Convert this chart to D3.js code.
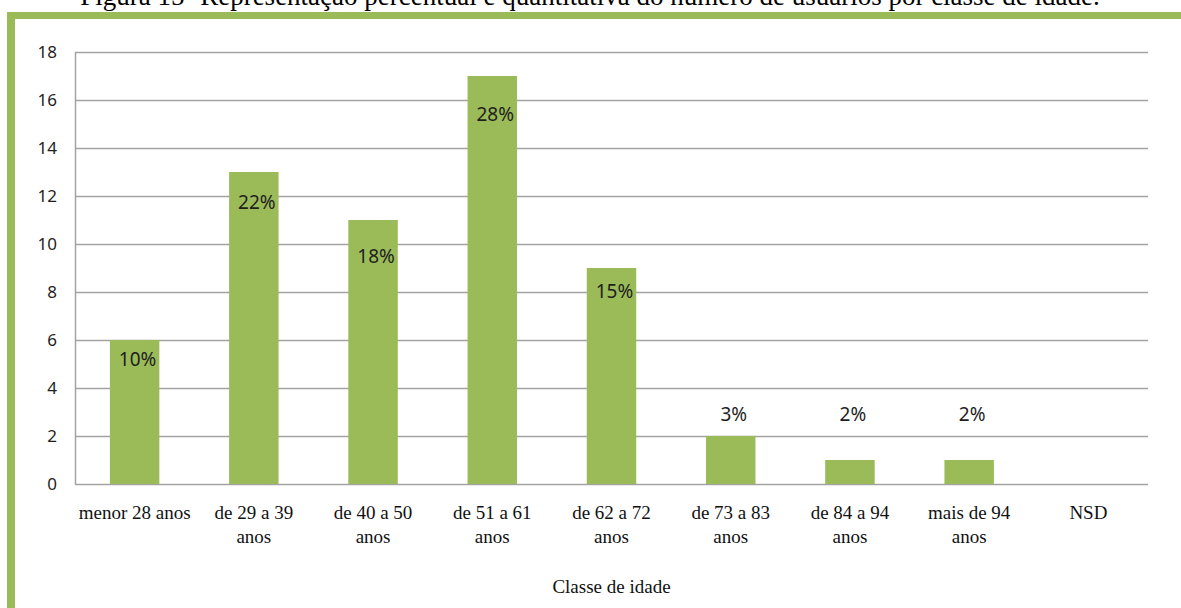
<!DOCTYPE html>
<html>
<head>
  <meta charset="utf-8">
  <title>Classe de idade</title>
  <script src="https://d3js.org/d3.v7.min.js"></script>
  <style>
    body { margin: 0; background: #fff; overflow: hidden; }
  </style>
</head>
<body>
  <svg id="chart" width="1181" height="608"></svg>
<script>
  // DATA
  var categories = ["menor 28 anos", "de 29 a 39\nanos", "de 40 a 50\nanos", "de 51 a 61\nanos",
                    "de 62 a 72\nanos", "de 73 a 83\nanos", "de 84 a 94\nanos", "mais de 94\nanos", "NSD"];
  var counts = [6, 13, 11, 17, 9, 2, 1, 1, 0];
  var percents = ["10%", "22%", "18%", "28%", "15%", "3%", "2%", "2%", ""];
  // the percent labels were dragged by hand in the original, so keep where they sit (in axis units)
  var labelAt = [5.2, 11.75, 9.5, 15.43, 8.04, 2.92, 2.92, 2.92, 0];
  var yTicks = [0, 2, 4, 6, 8, 10, 12, 14, 16, 18];
  var caption = "Figura 15- Representação percentual e quantitativa do número de usuários por classe de idade.";
  var xTitle = "Classe de idade";

  // GLOBALS (note: "top" is taken by window.top, so plot* names)
  var green = "#9bbb59";
  var gridColor = "#a3a3a3";
  var plotLeft = 75, plotRight = 1148, plotTop = 52, plotBottom = 484;
  var svg = d3.select("#chart");

  // scales
  var xScale = d3.scaleBand()
                 .domain(d3.range(categories.length))
                 .range([plotLeft, plotRight])
                 .paddingInner(0.585)
                 .paddingOuter(0.2925);
  var yScale = d3.scaleLinear()
                 .domain([0, 18])
                 .range([plotBottom, plotTop]);

  // caption, cut off by the top of the page
  svg.append("text")
    .attr("x", 590)
    .attr("y", 5)
    .attr("text-anchor", "middle")
    .style("font-family", "'Liberation Serif', 'Times New Roman', serif")
    .style("font-size", "27px")
    .style("fill", "#000")
    .text(caption);

  // green frame
  svg.append("rect").attr("x", 7).attr("y", 12).attr("width", 1181 - 7).attr("height", 7).style("fill", green);
  svg.append("rect").attr("x", 7).attr("y", 12).attr("width", 8).attr("height", 608 - 12).style("fill", green);

  // grid + y axis
  var yAxis = svg.append("g")
    .attr("transform", "translate(" + plotLeft + ",0)")
    .call(d3.axisLeft(yScale)
            .tickValues(yTicks)
            .tickSize(-(plotRight - plotLeft))
            .tickSizeOuter(0)
            .tickPadding(18));
  yAxis.selectAll("line").style("stroke", gridColor).style("stroke-width", 1.5);
  yAxis.select(".domain").style("stroke", gridColor).style("stroke-width", 1.5);
  yAxis.selectAll("text")
    .style("font-family", "'Noto Sans', sans-serif")
    .style("font-size", "17px")
    .style("fill", "#1e1e1e");

  // bars
  svg.selectAll(".bar")
    .data(counts)
    .enter().append("rect")
    .attr("class", "bar")
    .attr("x", function(d, i) { return xScale(i); })
    .attr("y", function(d) { return yScale(d); })
    .attr("width", xScale.bandwidth())
    .attr("height", function(d) { return yScale(0) - yScale(d); })
    .style("fill", green);

  // percent labels
  svg.selectAll(".pct")
    .data(percents)
    .enter().append("text")
    .attr("class", "pct")
    .attr("x", function(d, i) { return xScale(i) + xScale.bandwidth() / 2 + 3; })
    .attr("y", function(d, i) { return yScale(labelAt[i]); })
    .attr("dy", "0.36em")
    .attr("text-anchor", "middle")
    .style("font-family", "'Noto Sans', sans-serif")
    .style("font-size", "19px")
    .style("fill", "#1e1e1e")
    .text(function(d) { return d; });

  // category labels, one or two lines
  var cats = svg.selectAll(".cat")
    .data(categories)
    .enter().append("text")
    .attr("class", "cat")
    .attr("text-anchor", "middle")
    .style("font-family", "'Liberation Serif', 'Times New Roman', serif")
    .style("font-size", "19px")
    .style("fill", "#111");
  cats.each(function(d, i) {
    var cx = xScale(i) + xScale.bandwidth() / 2;
    d3.select(this).selectAll("tspan")
      .data(d.split("\n"))
      .enter().append("tspan")
      .attr("x", cx)
      .attr("y", function(line, j) { return 519 + j * 23.5; })
      .text(function(line) { return line; });
  });

  // axis title
  svg.append("text")
    .attr("x", (plotLeft + plotRight) / 2)
    .attr("y", 593)
    .attr("text-anchor", "middle")
    .style("font-family", "'Liberation Serif', 'Times New Roman', serif")
    .style("font-size", "19px")
    .style("fill", "#111")
    .text(xTitle);
</script>
</body>
</html>
